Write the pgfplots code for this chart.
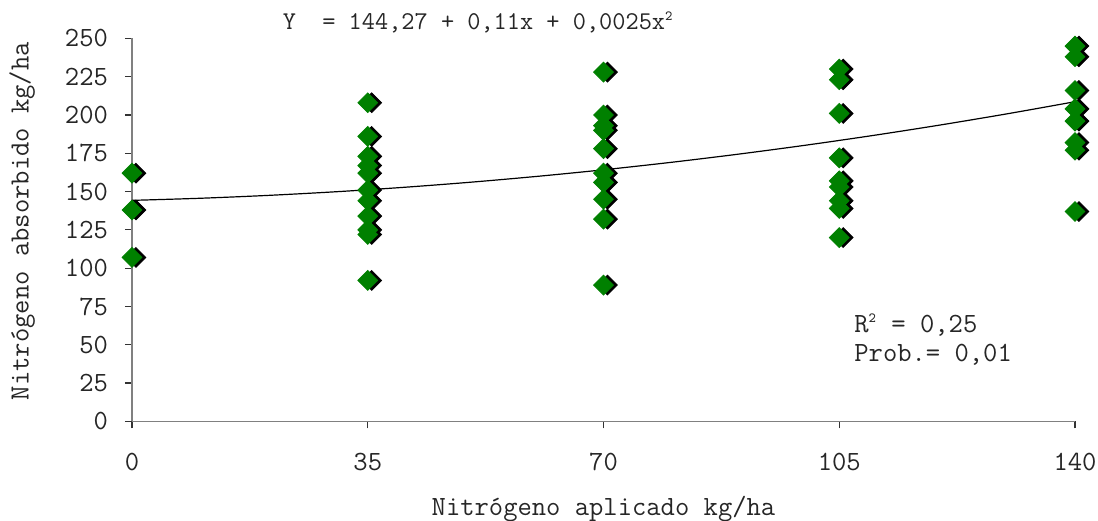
\documentclass[border=0pt]{standalone}
\usepackage{pgfplots}
\pgfplotsset{compat=1.18}
\usepackage{fontspec}
\newcommand\chartfont{\ttfamily\fontsize{13.9}{16}\selectfont}
\newcommand\eqfont{\ttfamily\fontsize{12.8}{15}\selectfont}
\definecolor{markgreen}{RGB}{0,128,0}
\definecolor{axisgray}{RGB}{128,128,128}

% Nitrogen uptake observations, one row per plot
\pgfplotstableread{
x y
0 162
0 138
0 107
35 208
35 186
35 173
35 167
35 162
35 151
35 144
35 134
35 125
35 122
35 92
70 228
70 200
70 193
70 190
70 178
70 162
70 156
70 145
70 132
70 89
105 230
105 223
105 201
105 172
105 157
105 153
105 144
105 139
105 120
140 245
140 238
140 216
140 204
140 196
140 182
140 177
140 137
}\obs

% Fitted quadratic: Y = 144.27 + 0.11x + 0.0025x^2
\pgfplotstableread{
x y
0 144.27
10 145.62
20 147.47
30 149.82
40 152.67
50 156.02
60 159.87
70 164.22
80 169.07
90 174.42
100 180.27
110 186.62
120 193.47
130 200.82
140 208.67
}\fit

\begin{document}
\begin{tikzpicture}
\begin{axis}[
  name=ax,
  scale only axis,
  width=471.5pt, height=191.5pt,
  xmin=0, xmax=140, ymin=0, ymax=250,
  axis x line=bottom, axis y line=left,
  axis line style={-, draw=axisgray, line width=0.7pt},
  xtick={0,35,70,105,140},
  ytick={0,25,...,250},
  tick align=outside,
  major tick length=3.5pt,
  tick style={draw=black!80, line width=0.6pt},
  /pgf/number format/assume math mode=true,
  ticklabel style={font=\chartfont, text=black!85},
  xticklabel style={yshift=-9pt},
  yticklabel style={xshift=-5pt},
  xlabel={Nitrógeno aplicado kg/ha},
  ylabel={Nitrógeno absorbido kg/ha},
  label style={font=\chartfont, text=black!85},
  xlabel style={at={(axis description cs:0.5,-0.23)}, anchor=center},
  ylabel style={at={(axis description cs:-0.1166,0.523)}, anchor=center, rotate=0},
  clip=false,
]
% regression curve
\addplot[black, line width=0.6pt, smooth] table[x=x, y=y] {\fit};
% drop shadows of the markers
\addplot[only marks, mark=square*, mark size=3.5pt,
  mark options={rotate=45, fill=black, draw=black, xshift=1.4pt, yshift=-1.4pt}]
  table[x=x, y=y] {\obs};
% markers
\addplot[only marks, mark=square*, mark size=3.5pt,
  mark options={rotate=45, fill=markgreen, draw=markgreen}]
  table[x=x, y=y] {\obs};

\node[font=\eqfont, text=black!85, anchor=center] at (axis cs:51.4,260.5)
  {Y\ \ = 144,27 + 0,11x + 0,0025x\textsuperscript{\scriptsize 2}};
\node[font=\chartfont, text=black!85, anchor=west] at (axis cs:106.2,63)
  {R\textsuperscript{\scriptsize 2} = 0,25};
\node[font=\chartfont, text=black!85, anchor=west] at (axis cs:106.2,43.5)
  {Prob.= 0,01};
\end{axis}
\pgfresetboundingbox
\path ([shift={(-66pt,-49.7pt)}]ax.south west) rectangle ([shift={(11.5pt,19.2pt)}]ax.north east);
\end{tikzpicture}
\end{document}
